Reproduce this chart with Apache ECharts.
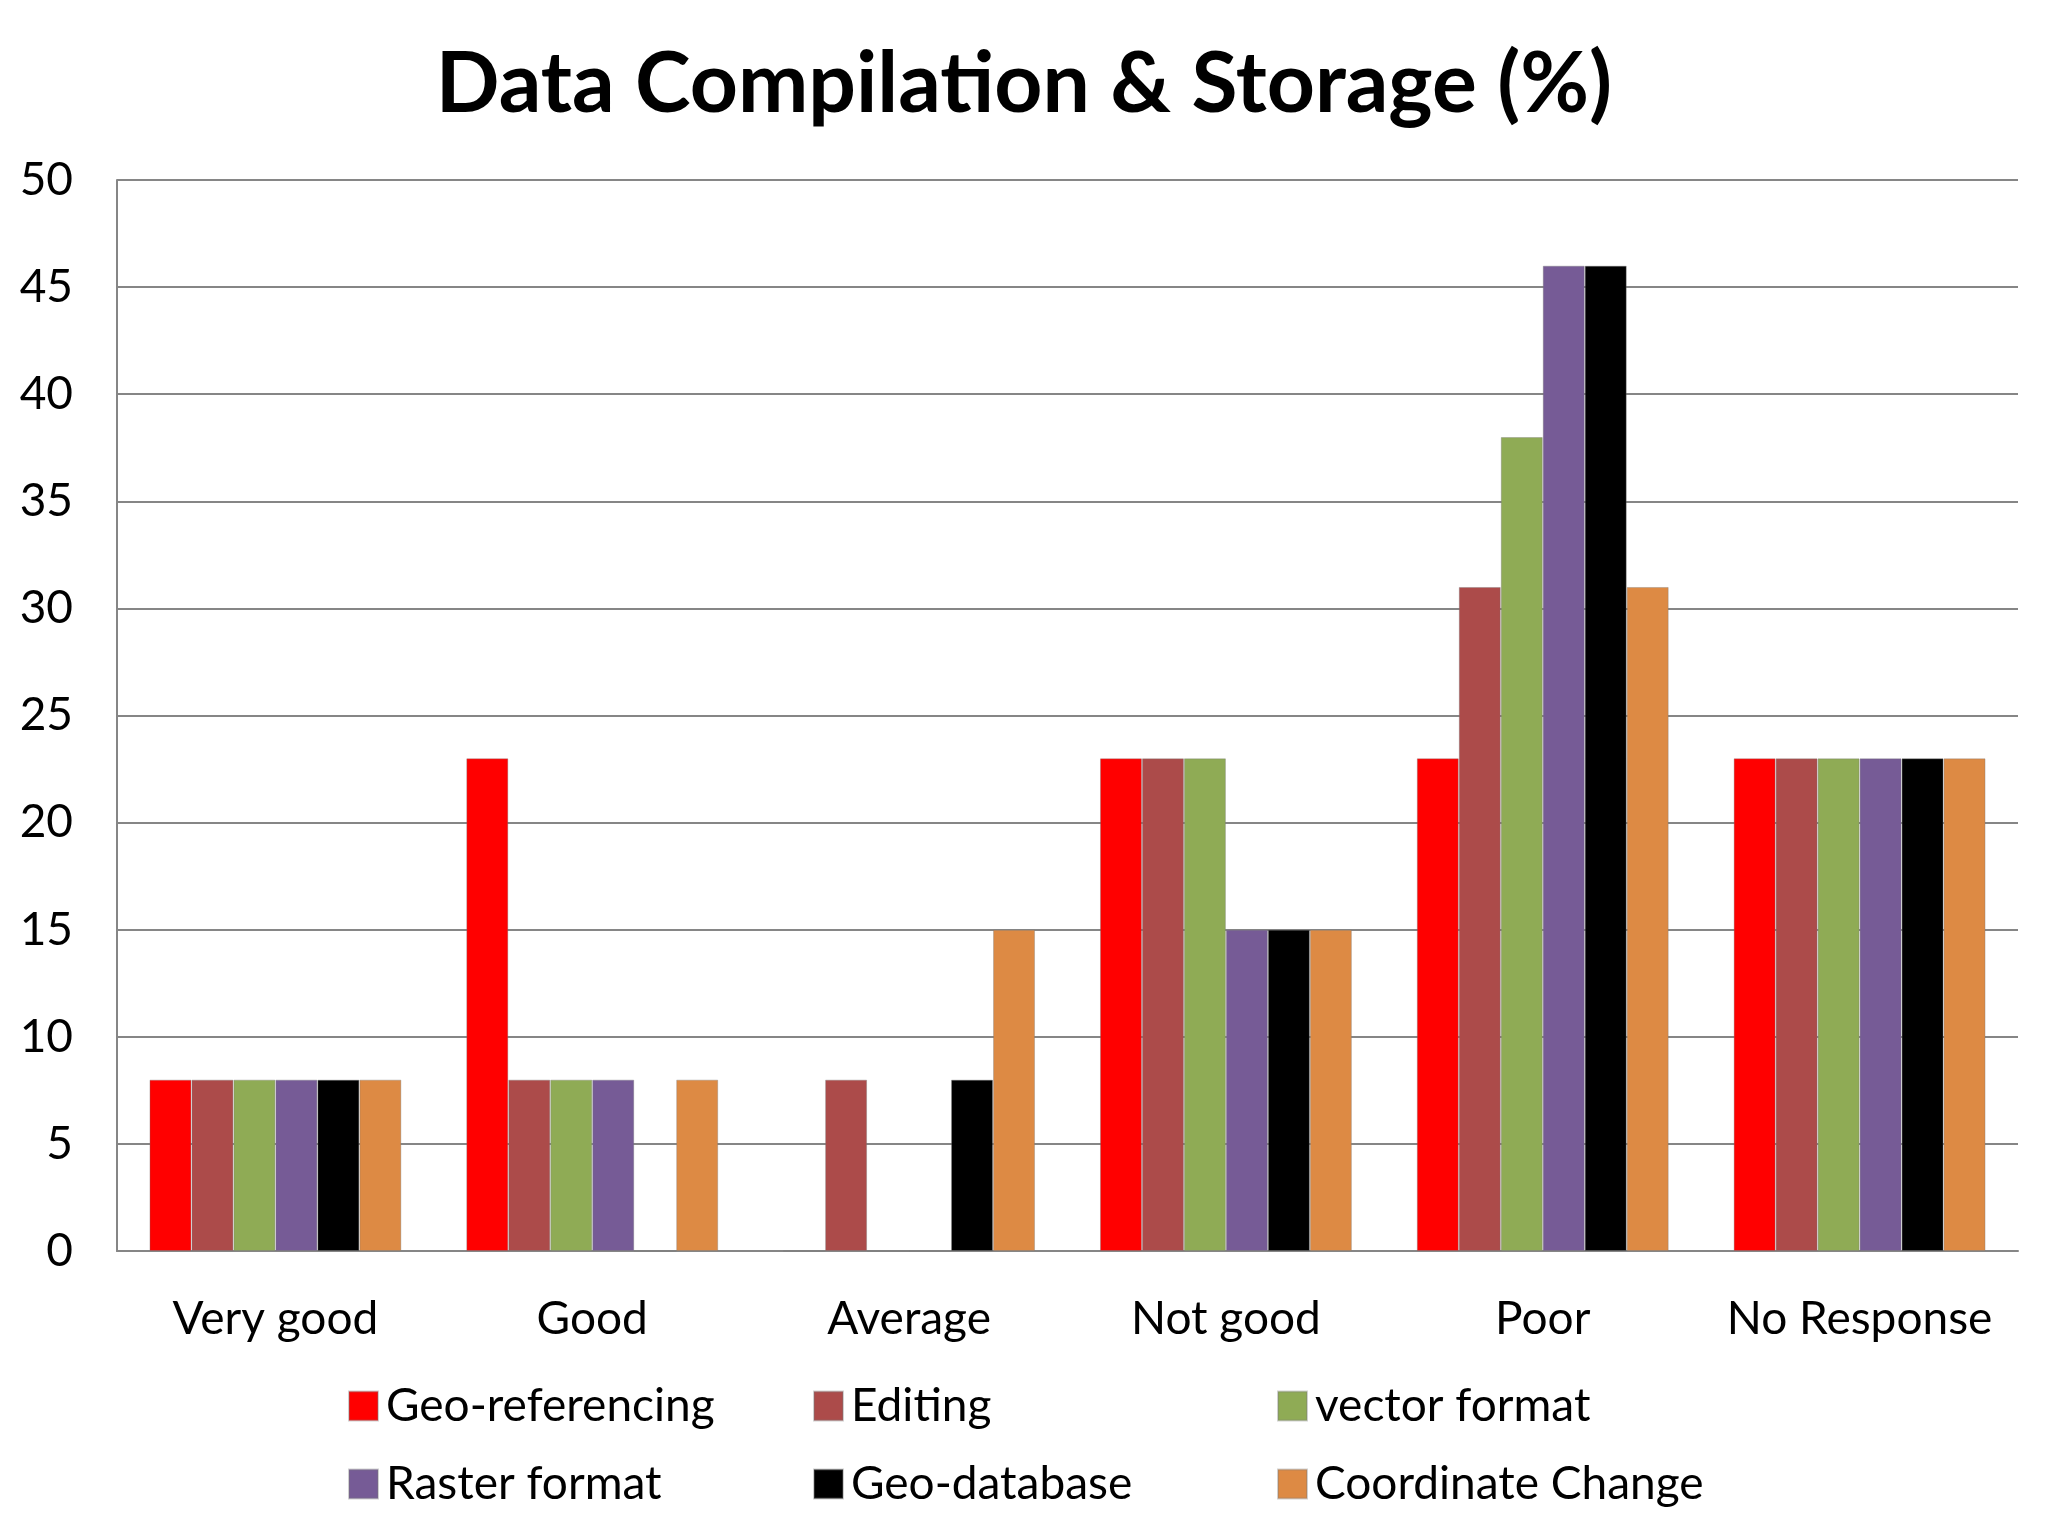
<!DOCTYPE html>
<html><head><meta charset="utf-8">
<script src="https://cdn.jsdelivr.net/npm/echarts@6/dist/echarts.min.js"></script>
<style>html,body{margin:0;padding:0;background:#fff}#c{width:2048px;height:1536px}</style>
</head><body><div id="c"></div>
<script>
const categories = ['Very good','Good','Average','Not good','Poor','No Response'];
const seriesNames = ['Geo-referencing','Editing','vector format','Raster format','Geo-database','Coordinate Change'];
const geoReferencing   = [8, 23, 0, 23, 23, 23];
const editing          = [8, 8, 8, 23, 31, 23];
const vectorFormat     = [8, 8, 0, 23, 38, 23];
const rasterFormat     = [8, 8, 0, 15, 46, 23];
const geoDatabase      = [8, 0, 8, 15, 46, 23];
const coordinateChange = [8, 8, 15, 15, 31, 23];
const yTicks = [0,5,10,15,20,25,30,35,40,45,50];
const colors = ['#FF0000','#AC4B4A','#8FAB55','#765B96','#000000','#DD8A44'];
const values = [geoReferencing, editing, vectorFormat, rasterFormat, geoDatabase, coordinateChange];
const FONT = 'Lato';
const chart = echarts.init(document.getElementById('c'));
const legendLeft = [343, 808, 1272];
const legendTop = [1378, 1456];
const legends = seriesNames.map((n, i) => ({
  data: [n], left: legendLeft[i % 3], top: legendTop[Math.floor(i / 3)],
  itemWidth: 29, itemHeight: 29, icon: 'rect',
  textStyle: {fontFamily: FONT, fontSize: 46, color: '#000', padding: [0, 0, 0, 3]}
}));
chart.setOption({
  animation: false,
  backgroundColor: '#fff',
  title: {text: 'Data Compilation & Storage (%)', left: 'center', top: 38,
    textStyle: {fontFamily: FONT, fontWeight: 'bold', fontSize: 84, color: '#000'}},
  grid: {left: 117, right: 30, top: 180, bottom: 285, containLabel: false},
  legend: legends,
  xAxis: {type: 'category', data: categories,
    axisLine: {lineStyle: {color: '#868686', width: 2}}, axisTick: {show: false},
    axisLabel: {interval: 0, fontFamily: FONT, fontSize: 46, color: '#000', margin: 45}},
  yAxis: {type: 'value', min: 0, max: 50, interval: 5,
    axisLine: {show: true, lineStyle: {color: '#868686', width: 2}}, axisTick: {show: false},
    splitLine: {lineStyle: {color: '#868686', width: 2}},
    axisLabel: {fontFamily: FONT, fontSize: 46, color: '#000', margin: 44,
      formatter: v => yTicks.includes(v) ? String(v) : ''}},
  series: seriesNames.map((n, i) => ({
    name: n, type: 'bar', data: values[i], barGap: '0%', barCategoryGap: '20.5%',
    itemStyle: {color: colors[i], borderColor: 'rgba(120,120,120,0.35)', borderWidth: 1}
  }))
});
</script></body></html>
